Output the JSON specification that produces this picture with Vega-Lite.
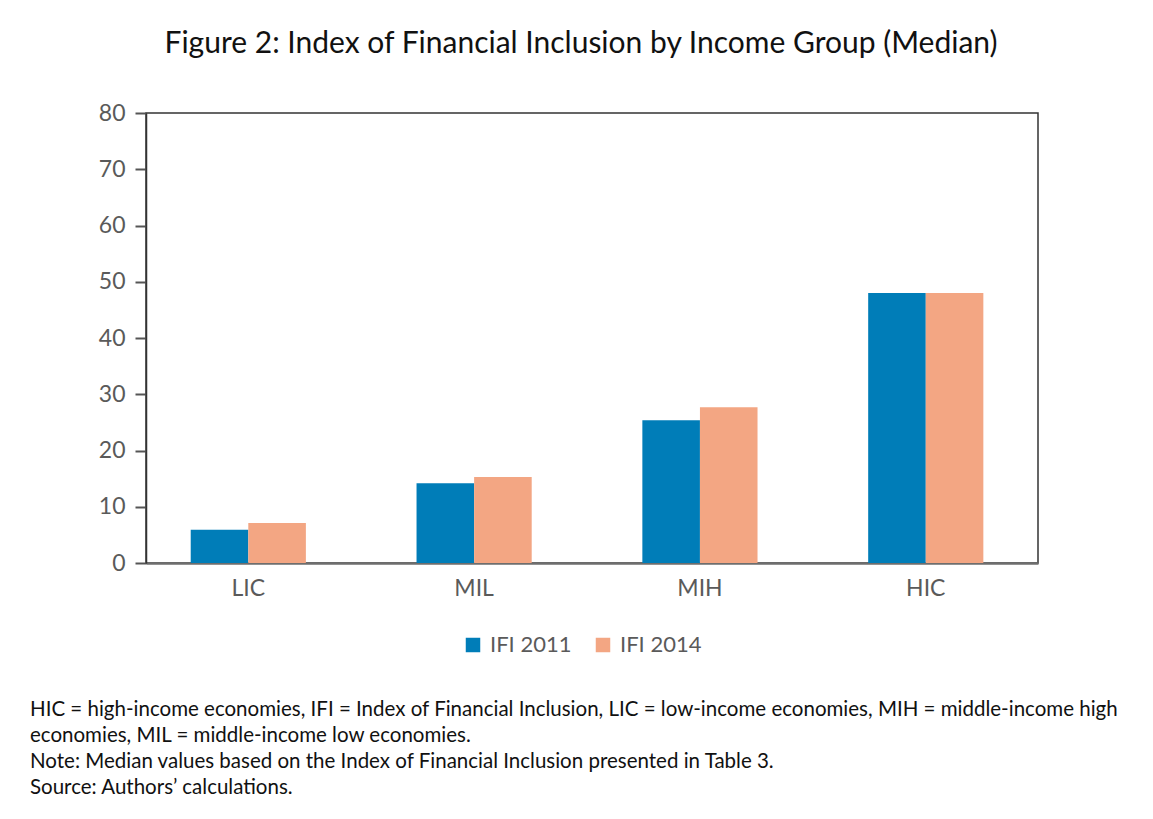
{
  "$schema": "https://vega.github.io/schema/vega-lite/v6.json",
  "background": "white",
  "padding": {"left": 29, "top": 29, "right": 5, "bottom": 5},
  "title": {
    "text": "Figure 2: Index of Financial Inclusion by Income Group (Median)",
    "font": "Lato",
    "fontSize": 30,
    "fontWeight": "normal",
    "color": "#111111",
    "anchor": "middle",
    "dx": 7,
    "offset": 42
  },
  "data": {
    "values": [
      {"group": "LIC", "series": "IFI 2011", "value": 5.9},
      {"group": "LIC", "series": "IFI 2014", "value": 7.1},
      {"group": "MIL", "series": "IFI 2011", "value": 14.2},
      {"group": "MIL", "series": "IFI 2014", "value": 15.3},
      {"group": "MIH", "series": "IFI 2011", "value": 25.4},
      {"group": "MIH", "series": "IFI 2014", "value": 27.7},
      {"group": "HIC", "series": "IFI 2011", "value": 48.0},
      {"group": "HIC", "series": "IFI 2014", "value": 48.0}
    ]
  },
  "resolve": {"legend": {"color": "independent"}, "scale": {"color": "independent"}},
  "vconcat": [
    {
      "width": 892,
      "height": 450,
      "title": {
        "text": [
          "HIC = high-income economies, IFI = Index of Financial Inclusion, LIC = low-income economies, MIH = middle-income high",
          "economies, MIL = middle-income low economies.",
          "Note: Median values based on the Index of Financial Inclusion presented in Table 3.",
          "Source: Authors’ calculations."
        ],
        "orient": "bottom",
        "anchor": "start",
        "frame": "group",
        "dx": -116,
        "offset": 44,
        "font": "Lato",
        "fontSize": 20.5,
        "fontWeight": "normal",
        "lineHeight": 26,
        "color": "#111111",
        "limit": 0
      },
      "mark": {"type": "bar"},
      "encoding": {
        "x": {
          "field": "group",
          "type": "nominal",
          "sort": ["LIC", "MIL", "MIH", "HIC"],
          "scale": {"paddingInner": 0.49, "paddingOuter": 0.22, "align": 0.45},
          "axis": {
            "title": null,
            "labelAngle": 0,
            "ticks": false,
            "labelPadding": 14,
            "labelFontSize": 23,
            "labelFont": "Lato",
            "labelColor": "#5a5a5a",
            "domainColor": "#6e6e6e",
            "domainWidth": 2.5
          }
        },
        "xOffset": {
          "field": "series",
          "type": "nominal",
          "sort": ["IFI 2011", "IFI 2014"],
          "scale": {"paddingInner": 0, "paddingOuter": 0}
        },
        "y": {
          "field": "value",
          "type": "quantitative",
          "scale": {"domain": [0, 80], "nice": false},
          "axis": {
            "title": null,
            "values": [0, 10, 20, 30, 40, 50, 60, 70, 80],
            "grid": false,
            "tickSize": 11,
            "tickColor": "#555555",
            "tickWidth": 2,
            "labelPadding": 10,
            "labelFontSize": 23,
            "labelFont": "Lato",
            "labelColor": "#5a5a5a",
            "domainColor": "#333333",
            "domainWidth": 1.5
          }
        },
        "color": {
          "field": "series",
          "type": "nominal",
          "sort": ["IFI 2011", "IFI 2014"],
          "scale": {"domain": ["IFI 2011", "IFI 2014"], "range": ["#007db8", "#f3a683"]},
          "legend": {
            "title": null,
            "orient": "none",
            "legendX": 316,
            "legendY": 521,
            "direction": "horizontal",
            "symbolType": "square",
            "symbolSize": 210,
            "symbolStrokeWidth": 0,
            "labelFontSize": 22,
            "labelFont": "Lato",
            "labelColor": "#5a5a5a",
            "columnPadding": 20,
            "labelOffset": 6
          }
        }
      }
    }
  ],
  "config": {
    "view": {"stroke": "#333333", "strokeWidth": 1.5},
    "concat": {"spacing": 0}
  }
}
